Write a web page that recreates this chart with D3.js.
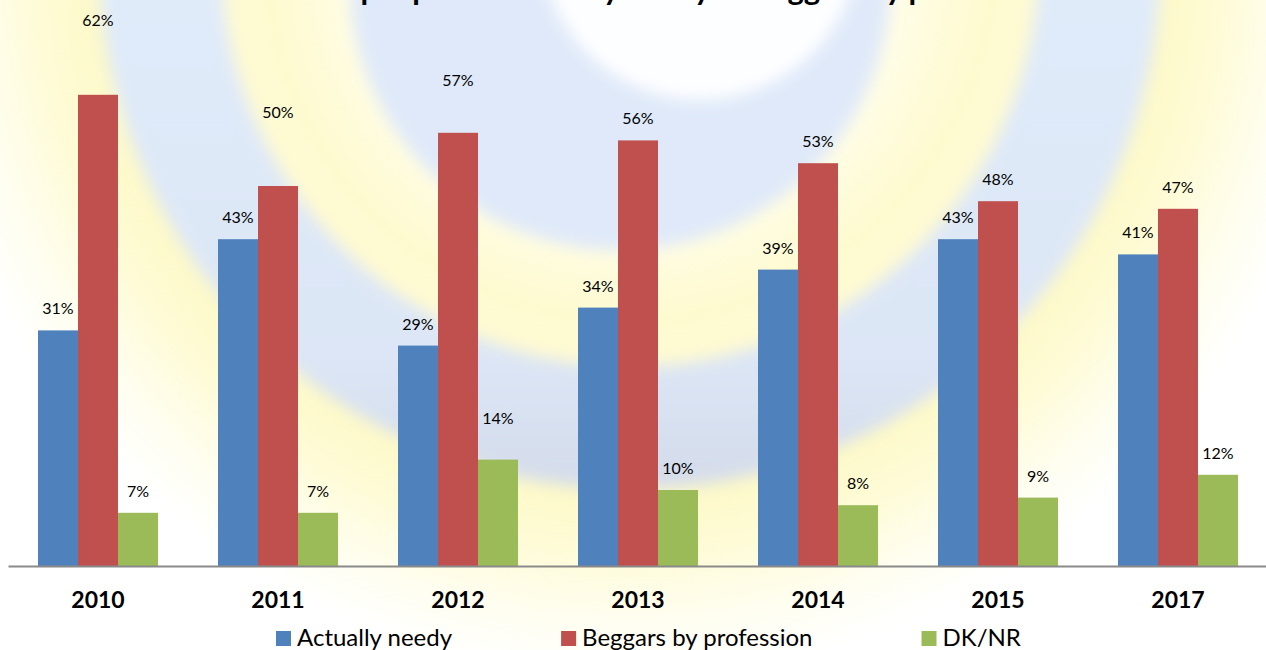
<!DOCTYPE html>
<html>
<head>
<meta charset="utf-8">
<script src="https://cdn.jsdelivr.net/npm/d3@7"></script>
<style>
  body { margin: 0; background: #fff; }
  svg { display: block; font-family: Lato, "Open Sans", sans-serif; }
</style>
</head>
<body>
<div id="chart"></div>
<script>
// chart data
var years = ["2010", "2011", "2012", "2013", "2014", "2015", "2017"];
var seriesNames = ["Actually needy", "Beggars by profession", "DK/NR"];
var actuallyNeedy = [31, 43, 29, 34, 39, 43, 41];
var beggarsByProfession = [62, 50, 57, 56, 53, 48, 47];
var dkNr = [7, 7, 14, 10, 8, 9, 12];
var titleText = "Whether people are actually needy or beggars by profession?";

// extra lift of some value labels (they sit higher in the original)
var labelLift = [
  [0, 0, 0, 0, 0, 0, 0],
  [53, 52, 31, 0, 0, 0, 0],
  [0, 0, 20, 0, 0, 0, 0]
];
var colors = ["#4f81bd", "#c0504d", "#9bbb59"];

var W = 1266, H = 650, baseY = 566;

var svg = d3.select("#chart").append("svg")
  .attr("width", W)
  .attr("height", H);

// ---- watermark background ----
var defs = svg.append("defs");
var glow = defs.append("radialGradient")
  .attr("id", "glow")
  .attr("gradientUnits", "userSpaceOnUse")
  .attr("cx", 630).attr("cy", -42).attr("r", 720);
[[0, "#ffffff"], [0.38, "#fffde6"], [0.5, "#fefad0"], [0.6, "#fefad4"],
 [0.74, "#fdf9c8"], [0.82, "#fefbd6"], [0.92, "#fffef0"], [1, "#ffffff"]]
  .forEach(function(s) {
    glow.append("stop").attr("offset", s[0]).attr("stop-color", s[1]);
  });

var ringGrad = defs.append("linearGradient")
  .attr("id", "ringGrad")
  .attr("gradientUnits", "userSpaceOnUse")
  .attr("x1", 0).attr("y1", 0).attr("x2", 0).attr("y2", 500);
ringGrad.append("stop").attr("offset", 0).attr("stop-color", "#e0ebfa");
ringGrad.append("stop").attr("offset", 0.7).attr("stop-color", "#dce6f6");
ringGrad.append("stop").attr("offset", 1).attr("stop-color", "#d3dbea");

defs.append("filter").attr("id", "soft")
  .attr("x", "-20%").attr("y", "-20%").attr("width", "140%").attr("height", "140%")
  .append("feGaussianBlur").attr("stdDeviation", 8);

svg.append("rect").attr("width", W).attr("height", H).attr("fill", "url(#glow)");

var mark = svg.append("g").attr("filter", "url(#soft)");
mark.append("circle")
  .attr("cx", 630).attr("cy", -42).attr("r", 470)
  .attr("fill", "none")
  .attr("stroke", "url(#ringGrad)")
  .attr("stroke-width", 122);
mark.append("circle")
  .attr("cx", 620).attr("cy", -20).attr("r", 270)
  .attr("fill", "#dfe9f9");
mark.append("circle")
  .attr("cx", 700).attr("cy", -60).attr("r", 160)
  .attr("fill", "#fdfeff");

// ---- title (mostly cut off at the top, as in the original) ----
var title = svg.append("text")
  .attr("x", 648)
  .attr("y", 0)
  .attr("text-anchor", "middle")
  .style("font-weight", "bold")
  .style("font-size", "30px")
  .style("fill", "#000")
  .text(titleText);
var tw = title.node().getComputedTextLength();
title.style("font-size", (30 * 835 / tw) + "px");

// ---- scales ----
var x0 = d3.scaleBand()
  .domain(years)
  .range([8, 1268])
  .paddingInner(1 / 3)
  .paddingOuter(1 / 6);

var x1 = d3.scaleBand()
  .domain(d3.range(seriesNames.length))
  .range([0, x0.bandwidth()]);

var y = d3.scaleLinear()
  .domain([0, 70])
  .range([baseY, baseY - 70 * 7.6]);

var series = [actuallyNeedy, beggarsByProfession, dkNr];

var rows = years.map(function(yr, i) {
  return series.map(function(s, k) {
    return { year: yr, k: k, value: s[i], lift: labelLift[k][i] };
  });
});

var groups = svg.selectAll(".year")
  .data(rows)
  .enter().append("g")
  .attr("class", "year")
  .attr("transform", function(d, i) { return "translate(" + x0(years[i]) + ",0)"; });

groups.selectAll("rect")
  .data(function(d) { return d; })
  .enter().append("rect")
  .attr("x", function(d) { return x1(d.k); })
  .attr("y", function(d) { return y(d.value); })
  .attr("width", x1.bandwidth())
  .attr("height", function(d) { return y(0) - y(d.value); })
  .attr("fill", function(d) { return colors[d.k]; });

groups.selectAll(".lbl")
  .data(function(d) { return d; })
  .enter().append("text")
  .attr("class", "lbl")
  .attr("x", function(d) { return x1(d.k) + x1.bandwidth() / 2; })
  .attr("y", function(d) { return y(d.value) - 16 - d.lift; })
  .attr("text-anchor", "middle")
  .style("font-size", "16px")
  .style("fill", "#000")
  .text(function(d) { return d.value + "%"; });

// ---- x axis ----
var xAxis = svg.append("g")
  .attr("transform", "translate(0," + baseY + ")")
  .call(d3.axisBottom(x0).tickSize(0).tickSizeOuter(0).tickPadding(26));
xAxis.select(".domain")
  .attr("stroke", "#8a8a8a")
  .attr("stroke-width", 2);
xAxis.selectAll("text")
  .style("font-family", "Lato, sans-serif")
  .style("font-weight", "bold")
  .style("font-size", "23px")
  .style("fill", "#000");

// ---- legend ----
var legend = svg.append("g");
var lx = 276;
seriesNames.forEach(function(name, k) {
  legend.append("rect")
    .attr("x", lx).attr("y", 631)
    .attr("width", 15).attr("height", 15)
    .attr("fill", colors[k]);
  var t = legend.append("text")
    .attr("x", lx + 21)
    .attr("y", 646)
    .style("font-size", "24px")
    .style("fill", "#000")
    .text(name);
  lx += 21 + t.node().getComputedTextLength() + 109;
});
</script>
</body>
</html>
